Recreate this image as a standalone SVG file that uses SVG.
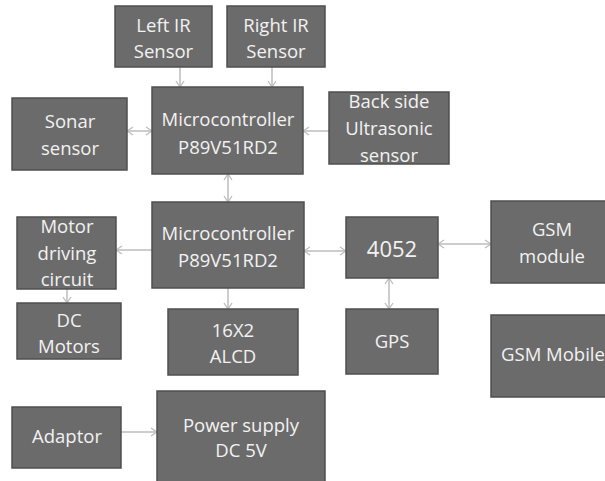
<svg xmlns="http://www.w3.org/2000/svg" width="605" height="481" viewBox="0 0 605 481">
<defs>
<style>
.box{fill:#6b6b6b;stroke:#4f4f4f;stroke-width:1.5}
.t{font-family:"Open Sans","Liberation Sans",sans-serif;font-size:18.5px;fill:#f2f2f2;text-anchor:middle}
.big{font-size:22px}
.c{stroke:#bdbdbd;stroke-width:1.5;fill:none}
</style>
<marker id="ah" markerWidth="8" markerHeight="10" refX="7" refY="5" orient="auto-start-reverse" markerUnits="userSpaceOnUse">
<path d="M1,1 L7,5 L1,9" fill="none" stroke="#bdbdbd" stroke-width="1.3"/>
</marker>
</defs>
<rect width="605" height="481" fill="#ffffff"/>
<g id="connectors">
<line class="c" x1="180" y1="67" x2="180" y2="87" marker-end="url(#ah)"/>
<line class="c" x1="272" y1="67" x2="272" y2="87" marker-end="url(#ah)"/>
<line class="c" x1="127" y1="131" x2="152" y2="131" marker-start="url(#ah)" marker-end="url(#ah)"/>
<line class="c" x1="329" y1="131" x2="303" y2="131" marker-end="url(#ah)"/>
<line class="c" x1="228" y1="174" x2="228" y2="202" marker-start="url(#ah)" marker-end="url(#ah)"/>
<line class="c" x1="152" y1="250" x2="116" y2="250" marker-end="url(#ah)"/>
<line class="c" x1="67" y1="289" x2="67" y2="303" marker-end="url(#ah)"/>
<line class="c" x1="228" y1="288" x2="228" y2="309" marker-end="url(#ah)"/>
<line class="c" x1="304" y1="251" x2="346" y2="251" marker-start="url(#ah)" marker-end="url(#ah)"/>
<line class="c" x1="438" y1="244" x2="491" y2="244" marker-start="url(#ah)" marker-end="url(#ah)"/>
<line class="c" x1="389" y1="278" x2="389" y2="309" marker-start="url(#ah)" marker-end="url(#ah)"/>
<line class="c" x1="121" y1="432" x2="157" y2="432" marker-end="url(#ah)"/>
</g>
<g id="left-ir"><rect class="box" x="115" y="6" width="97" height="61"/><text class="t" x="163.5" y="32">Left IR</text><text class="t" x="163.5" y="58">Sensor</text></g>
<g id="right-ir"><rect class="box" x="227" y="6" width="98" height="61"/><text class="t" x="276" y="32">Right IR</text><text class="t" x="276" y="58">Sensor</text></g>
<g id="sonar"><rect class="box" x="12" y="98" width="115" height="72"/><text class="t" x="70" y="128">Sonar</text><text class="t" x="70" y="155">sensor</text></g>
<g id="mc1"><rect class="box" x="152" y="87" width="151" height="87"/><text class="t" x="228" y="126">Microcontroller</text><text class="t" x="228" y="154">P89V51RD2</text></g>
<g id="backside"><rect class="box" x="329" y="92" width="120" height="72"/><text class="t" x="389" y="108">Back side</text><text class="t" x="389" y="135">Ultrasonic</text><text class="t" x="389" y="162">sensor</text></g>
<g id="mc2"><rect class="box" x="152" y="202" width="152" height="86"/><text class="t" x="228" y="240">Microcontroller</text><text class="t" x="228" y="267">P89V51RD2</text></g>
<g id="motor-driving"><rect class="box" x="17" y="217" width="99" height="72"/><text class="t" x="67" y="233">Motor</text><text class="t" x="67" y="260">driving</text><text class="t" x="67" y="286">circuit</text></g>
<g id="dc-motors"><rect class="box" x="17" y="303" width="104" height="56"/><text class="t" x="69" y="327">DC</text><text class="t" x="69" y="353">Motors</text></g>
<g id="alcd"><rect class="box" x="168" y="309" width="130" height="66"/><text class="t" x="233" y="337">16X2</text><text class="t" x="233" y="363">ALCD</text></g>
<g id="mux4052"><rect class="box" x="346" y="217" width="92" height="61"/><text class="t big" x="392" y="257">4052</text></g>
<g id="gps"><rect class="box" x="346" y="309" width="92" height="65"/><text class="t" x="392" y="348">GPS</text></g>
<g id="gsm-module"><rect class="box" x="491" y="201" width="120" height="82"/><text class="t" x="552" y="236">GSM</text><text class="t" x="552" y="263">module</text></g>
<g id="gsm-mobile"><rect class="box" x="491" y="315" width="120" height="82"/><text class="t" x="553" y="361">GSM Mobile</text></g>
<g id="adaptor"><rect class="box" x="12" y="407" width="109" height="61"/><text class="t" x="67" y="443">Adaptor</text></g>
<g id="power-supply"><rect class="box" x="157" y="391" width="168" height="100"/><text class="t" x="241" y="432">Power supply</text><text class="t" x="241" y="457">DC 5V</text></g>
</svg>
